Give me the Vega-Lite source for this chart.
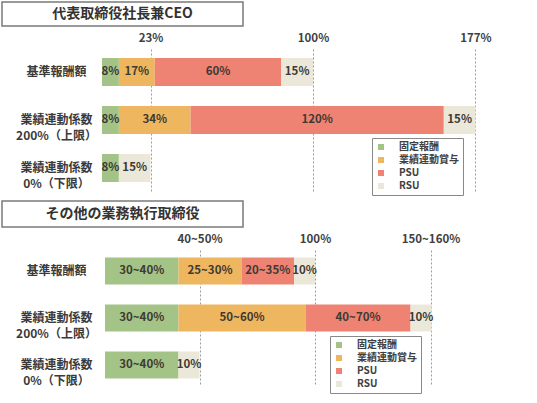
{
  "$schema": "https://vega.github.io/schema/vega-lite/v6.json",
  "padding": {"left": 1, "top": 1, "right": 0, "bottom": 0},
  "background": "white",
  "config": {
    "font": "Noto Sans CJK JP",
    "view": {"stroke": null}
  },
  "datasets": {
    "pay": [
      {"panel": "ceo", "row": "基準報酬額", "comp": "固定報酬", "k": 1, "v": 8, "label": "8%"},
      {"panel": "ceo", "row": "基準報酬額", "comp": "業績連動賞与", "k": 2, "v": 17, "label": "17%"},
      {"panel": "ceo", "row": "基準報酬額", "comp": "PSU", "k": 3, "v": 60, "label": "60%"},
      {"panel": "ceo", "row": "基準報酬額", "comp": "RSU", "k": 4, "v": 15, "label": "15%"},
      {"panel": "ceo", "row": "業績連動係数|200%（上限）", "comp": "固定報酬", "k": 1, "v": 8, "label": "8%"},
      {"panel": "ceo", "row": "業績連動係数|200%（上限）", "comp": "業績連動賞与", "k": 2, "v": 34, "label": "34%"},
      {"panel": "ceo", "row": "業績連動係数|200%（上限）", "comp": "PSU", "k": 3, "v": 120, "label": "120%"},
      {"panel": "ceo", "row": "業績連動係数|200%（上限）", "comp": "RSU", "k": 4, "v": 15, "label": "15%"},
      {"panel": "ceo", "row": "業績連動係数|0%（下限）", "comp": "固定報酬", "k": 1, "v": 8, "label": "8%"},
      {"panel": "ceo", "row": "業績連動係数|0%（下限）", "comp": "RSU", "k": 4, "v": 15, "label": "15%"},
      {"panel": "other", "row": "基準報酬額", "comp": "固定報酬", "k": 1, "v": 35, "label": "30~40%"},
      {"panel": "other", "row": "基準報酬額", "comp": "業績連動賞与", "k": 2, "v": 30, "label": "25~30%"},
      {"panel": "other", "row": "基準報酬額", "comp": "PSU", "k": 3, "v": 25, "label": "20~35%"},
      {"panel": "other", "row": "基準報酬額", "comp": "RSU", "k": 4, "v": 10, "label": "10%"},
      {"panel": "other", "row": "業績連動係数|200%（上限）", "comp": "固定報酬", "k": 1, "v": 35, "label": "30~40%"},
      {"panel": "other", "row": "業績連動係数|200%（上限）", "comp": "業績連動賞与", "k": 2, "v": 60.5, "label": "50~60%"},
      {"panel": "other", "row": "業績連動係数|200%（上限）", "comp": "PSU", "k": 3, "v": 50, "label": "40~70%"},
      {"panel": "other", "row": "業績連動係数|200%（上限）", "comp": "RSU", "k": 4, "v": 10, "label": "10%"},
      {"panel": "other", "row": "業績連動係数|0%（下限）", "comp": "固定報酬", "k": 1, "v": 35, "label": "30~40%"},
      {"panel": "other", "row": "業績連動係数|0%（下限）", "comp": "RSU", "k": 4, "v": 10, "label": "10%"}
    ]
  },
  "spacing": 4,
  "resolve": {"scale": {"color": "independent"}, "legend": {"color": "independent"}},
  "vconcat": [
    {
      "bounds": "flush",
      "spacing": 23,
      "resolve": {"scale": {"color": "independent"}, "legend": {"color": "independent"}},
      "vconcat": [
        {
          "width": 241,
          "height": 24,
          "view": {"stroke": "#7a7a7a", "strokeWidth": 1.5, "fill": "white"},
          "data": {"values": [{"t": "代表取締役社長兼CEO"}]},
          "mark": {"type": "text", "fontSize": 14, "fontWeight": "bold", "color": "#333333", "align": "center", "baseline": "middle"},
          "encoding": {"text": {"field": "t"}}
        },
        {
          "width": 536,
          "height": 142,
          "data": {"name": "pay"},
          "transform": [
            {"filter": "datum.panel == 'ceo'"},
            {"stack": "v", "groupby": ["row"], "sort": [{"field": "k", "order": "ascending"}], "as": ["v0", "v1"]},
            {"calculate": "(datum.v0 + datum.v1) / 2", "as": "mid"}
          ],
          "encoding": {
            "y": {
              "field": "row",
              "type": "nominal",
              "scale": {"domain": ["基準報酬額", "業績連動係数|200%（上限）", "業績連動係数|0%（下限）"], "paddingInner": 0.4167, "paddingOuter": 0.1875},
              "axis": {"title": null, "orient": "left", "offset": -54, "domain": false, "ticks": false, "tickSize": 0, "labelPadding": 0, "labelAlign": "center", "labelBaseline": "middle", "labelExpr": "split(datum.label, '|')", "labelFontSize": 12, "labelFontWeight": "bold", "labelColor": "#3a3a3a", "labelLineHeight": 16, "labelBound": false, "labelOverlap": false}
            }
          },
          "layer": [
            {
              "mark": {"type": "bar"},
              "encoding": {
                "x": {
                  "field": "v0",
                  "type": "quantitative",
                  "scale": {"domain": [-47.39, 206.64], "nice": false, "zero": false},
                  "axis": {"title": null, "orient": "top", "values": [23, 100, 177], "labelExpr": "datum.value + '%'", "grid": true, "gridDash": [2, 2], "gridColor": "#9a9a9a", "gridWidth": 1, "domain": false, "ticks": false, "tickSize": 0, "labelPadding": 6, "labelFontSize": 11.5, "labelFontWeight": "bold", "labelColor": "#404040", "labelFlush": false, "labelBound": false, "labelOverlap": false}
                },
                "x2": {"field": "v1"},
                "color": {
                  "field": "comp",
                  "type": "nominal",
                  "scale": {"domain": ["固定報酬", "業績連動賞与", "PSU", "RSU"], "range": ["#A4C387", "#EDB65F", "#EE8374", "#ECE8D9"]},
                  "legend": {"orient": "none", "legendX": 370, "legendY": 89, "title": null, "symbolType": "square", "symbolSize": 36, "symbolStrokeWidth": 0, "labelFontSize": 10, "labelFontWeight": "bold", "labelColor": "#404040", "strokeColor": "#888888", "fillColor": "white", "padding": 4, "rowPadding": 3, "labelOffset": 13}
                }
              }
            },
            {
              "mark": {"type": "text", "fontSize": 11.5, "fontWeight": "bold", "color": "#3d3a33", "align": "center", "baseline": "middle"},
              "encoding": {
                "x": {"field": "mid", "type": "quantitative"},
                "text": {"field": "label"}
              }
            }
          ]
        }
      ]
    },
    {
      "bounds": "flush",
      "spacing": 23,
      "resolve": {"scale": {"color": "independent"}, "legend": {"color": "independent"}},
      "vconcat": [
        {
          "width": 241,
          "height": 26,
          "view": {"stroke": "#7a7a7a", "strokeWidth": 1.5, "fill": "white"},
          "data": {"values": [{"t": "その他の業務執行取締役"}]},
          "mark": {"type": "text", "fontSize": 14, "fontWeight": "bold", "color": "#333333", "align": "center", "baseline": "middle"},
          "encoding": {"text": {"field": "t"}}
        },
        {
          "width": 536,
          "height": 136,
          "data": {"name": "pay"},
          "transform": [
            {"filter": "datum.panel == 'other'"},
            {"stack": "v", "groupby": ["row"], "sort": [{"field": "k", "order": "ascending"}], "as": ["v0", "v1"]},
            {"calculate": "(datum.v0 + datum.v1) / 2", "as": "mid"}
          ],
          "encoding": {
            "y": {
              "field": "row",
              "type": "nominal",
              "scale": {"domain": ["基準報酬額", "業績連動係数|200%（上限）", "業績連動係数|0%（下限）"], "paddingInner": 0.4255, "paddingOuter": 0.16},
              "axis": {"title": null, "orient": "left", "offset": -54, "domain": false, "ticks": false, "tickSize": 0, "labelPadding": 0, "labelAlign": "center", "labelBaseline": "middle", "labelExpr": "split(datum.label, '|')", "labelFontSize": 12, "labelFontWeight": "bold", "labelColor": "#3a3a3a", "labelLineHeight": 16, "labelBound": false, "labelOverlap": false}
            }
          },
          "layer": [
            {
              "mark": {"type": "bar"},
              "encoding": {
                "x": {
                  "field": "v0",
                  "type": "quantitative",
                  "scale": {"domain": [-49.05, 206.19], "nice": false, "zero": false},
                  "axis": {"title": null, "orient": "top", "values": [45, 100, 155], "labelExpr": "datum.value == 45 ? '40~50%' : datum.value == 155 ? '150~160%' : '100%'", "grid": true, "gridDash": [2, 2], "gridColor": "#9a9a9a", "gridWidth": 1, "domain": false, "ticks": false, "tickSize": 0, "labelPadding": 6, "labelFontSize": 11.5, "labelFontWeight": "bold", "labelColor": "#404040", "labelFlush": false, "labelBound": false, "labelOverlap": false}
                },
                "x2": {"field": "v1"},
                "color": {
                  "field": "comp",
                  "type": "nominal",
                  "scale": {"domain": ["固定報酬", "業績連動賞与", "PSU", "RSU"], "range": ["#A4C387", "#EDB65F", "#EE8374", "#ECE8D9"]},
                  "legend": {"orient": "none", "legendX": 328, "legendY": 86, "title": null, "symbolType": "square", "symbolSize": 36, "symbolStrokeWidth": 0, "labelFontSize": 10, "labelFontWeight": "bold", "labelColor": "#404040", "strokeColor": "#888888", "fillColor": "white", "padding": 4, "rowPadding": 3, "labelOffset": 13}
                }
              }
            },
            {
              "mark": {"type": "text", "fontSize": 11.5, "fontWeight": "bold", "color": "#3d3a33", "align": "center", "baseline": "middle"},
              "encoding": {
                "x": {"field": "mid", "type": "quantitative"},
                "text": {"field": "label"}
              }
            }
          ]
        }
      ]
    }
  ]
}
